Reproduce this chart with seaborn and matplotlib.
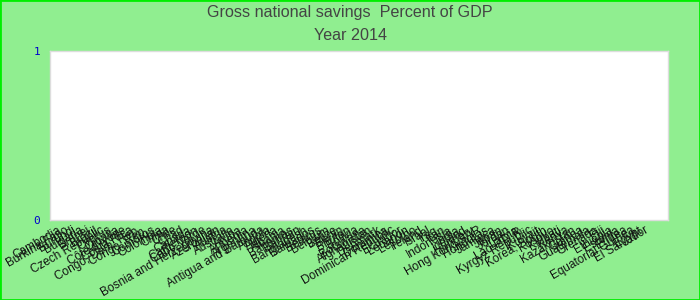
import matplotlib
matplotlib.use("Agg")
import matplotlib.pyplot as plt
import seaborn as sns
import pandas as pd

title_line1 = "Gross national savings  Percent of GDP"
title_line2 = "Year 2014"

countries = ["Cambodia", "Burkina Faso", "Burundi", "Bulgaria", "Brunei", "Brazil",
             "Czech Republic", "Cyprus", "Croatia", "Côte d'Ivoire", "Costa Rica",
             "Congo, Dem. Rep.", "Congo, Rep.", "Comoros", "Colombia", "China", "Chile", "Chad",
             "Canada", "Cameroon", "Cabo Verde", "Bosnia and Herzegovina", "Azerbaijan", "Austria",
             "Australia", "Aruba", "Armenia", "Argentina", "Antigua and Barbuda", "Angola",
             "Algeria", "Albania", "Bahamas", "Bahrain", "Bangladesh", "Barbados", "Belarus",
             "Belgium", "Belize", "Benin", "Bhutan", "Bolivia", "Botswana", "Afghanistan",
             "Denmark", "Dominica", "Dominican Republic", "Ecuador", "Lebanon", "Lesotho",
             "Ireland", "Israel", "Iraq", "Iran", "Indonesia", "India", "Iceland", "Hungary",
             "Hong Kong SAR", "Honduras", "Jamaica", "Japan", "Jordan", "Latvia", "Lao P.D.R.",
             "Kyrgyz Republic", "Kuwait", "Korea, South", "Kosovo", "Kiribati", "Kenya",
             "Kazakhstan", "Guinea", "Guatemala", "Grenada", "Fiji", "Ethiopia", "Estonia",
             "Eritrea", "Equatorial Guinea", "Egypt", "El Salvador"]
values = [0] * len(countries)  # no visible bars in the reference
y_ticks = [0, 1]

df = pd.DataFrame({"country": countries, "value": values})

sns.set_theme(style="white")
plt.rcParams['font.family'] = ['Liberation Sans', 'DejaVu Sans']

fig = plt.figure(figsize=(7, 3), dpi=100, facecolor="#90EE90")
fig.patches.append(plt.Rectangle((0, 0), 1, 1, transform=fig.transFigure,
                                 fill=False, edgecolor="#00ee00", linewidth=2, zorder=10))
ax = fig.add_axes([50 / 700, 1 - 220 / 300, 618 / 700, 169 / 300])
ax.set_facecolor("white")

sns.barplot(data=df, x="country", y="value", ax=ax, color="#4472c4")

ax.set_ylim(0, 1)
ax.set_yticks(y_ticks)
ax.set_yticklabels([str(t) for t in y_ticks], color="#0000cc", family="DejaVu Sans Mono", fontsize=8)
ax.tick_params(axis="y", length=0, pad=7)
ax.tick_params(axis="x", length=0, pad=3)
ax.set_xticks(range(len(countries)))
ax.set_xticklabels(countries, rotation=30, ha="right", rotation_mode="anchor",
                   fontsize=8.5, color="#111111")
ax.set_xlim(-1.0, len(countries) + 2.2)
ax.set_xlabel("")
ax.set_ylabel("")
for s in ax.spines.values():
    s.set_color("#dddddd")
    s.set_linewidth(1)

fig.text(0.5, 1 - 13 / 300, title_line1, ha="center", va="center", fontsize=11.6, color="#444444")
fig.text(0.5, 1 - 36 / 300, title_line2, ha="center", va="center", fontsize=11.6, color="#444444")

fig.savefig("out.png", dpi=100, facecolor=fig.get_facecolor())
